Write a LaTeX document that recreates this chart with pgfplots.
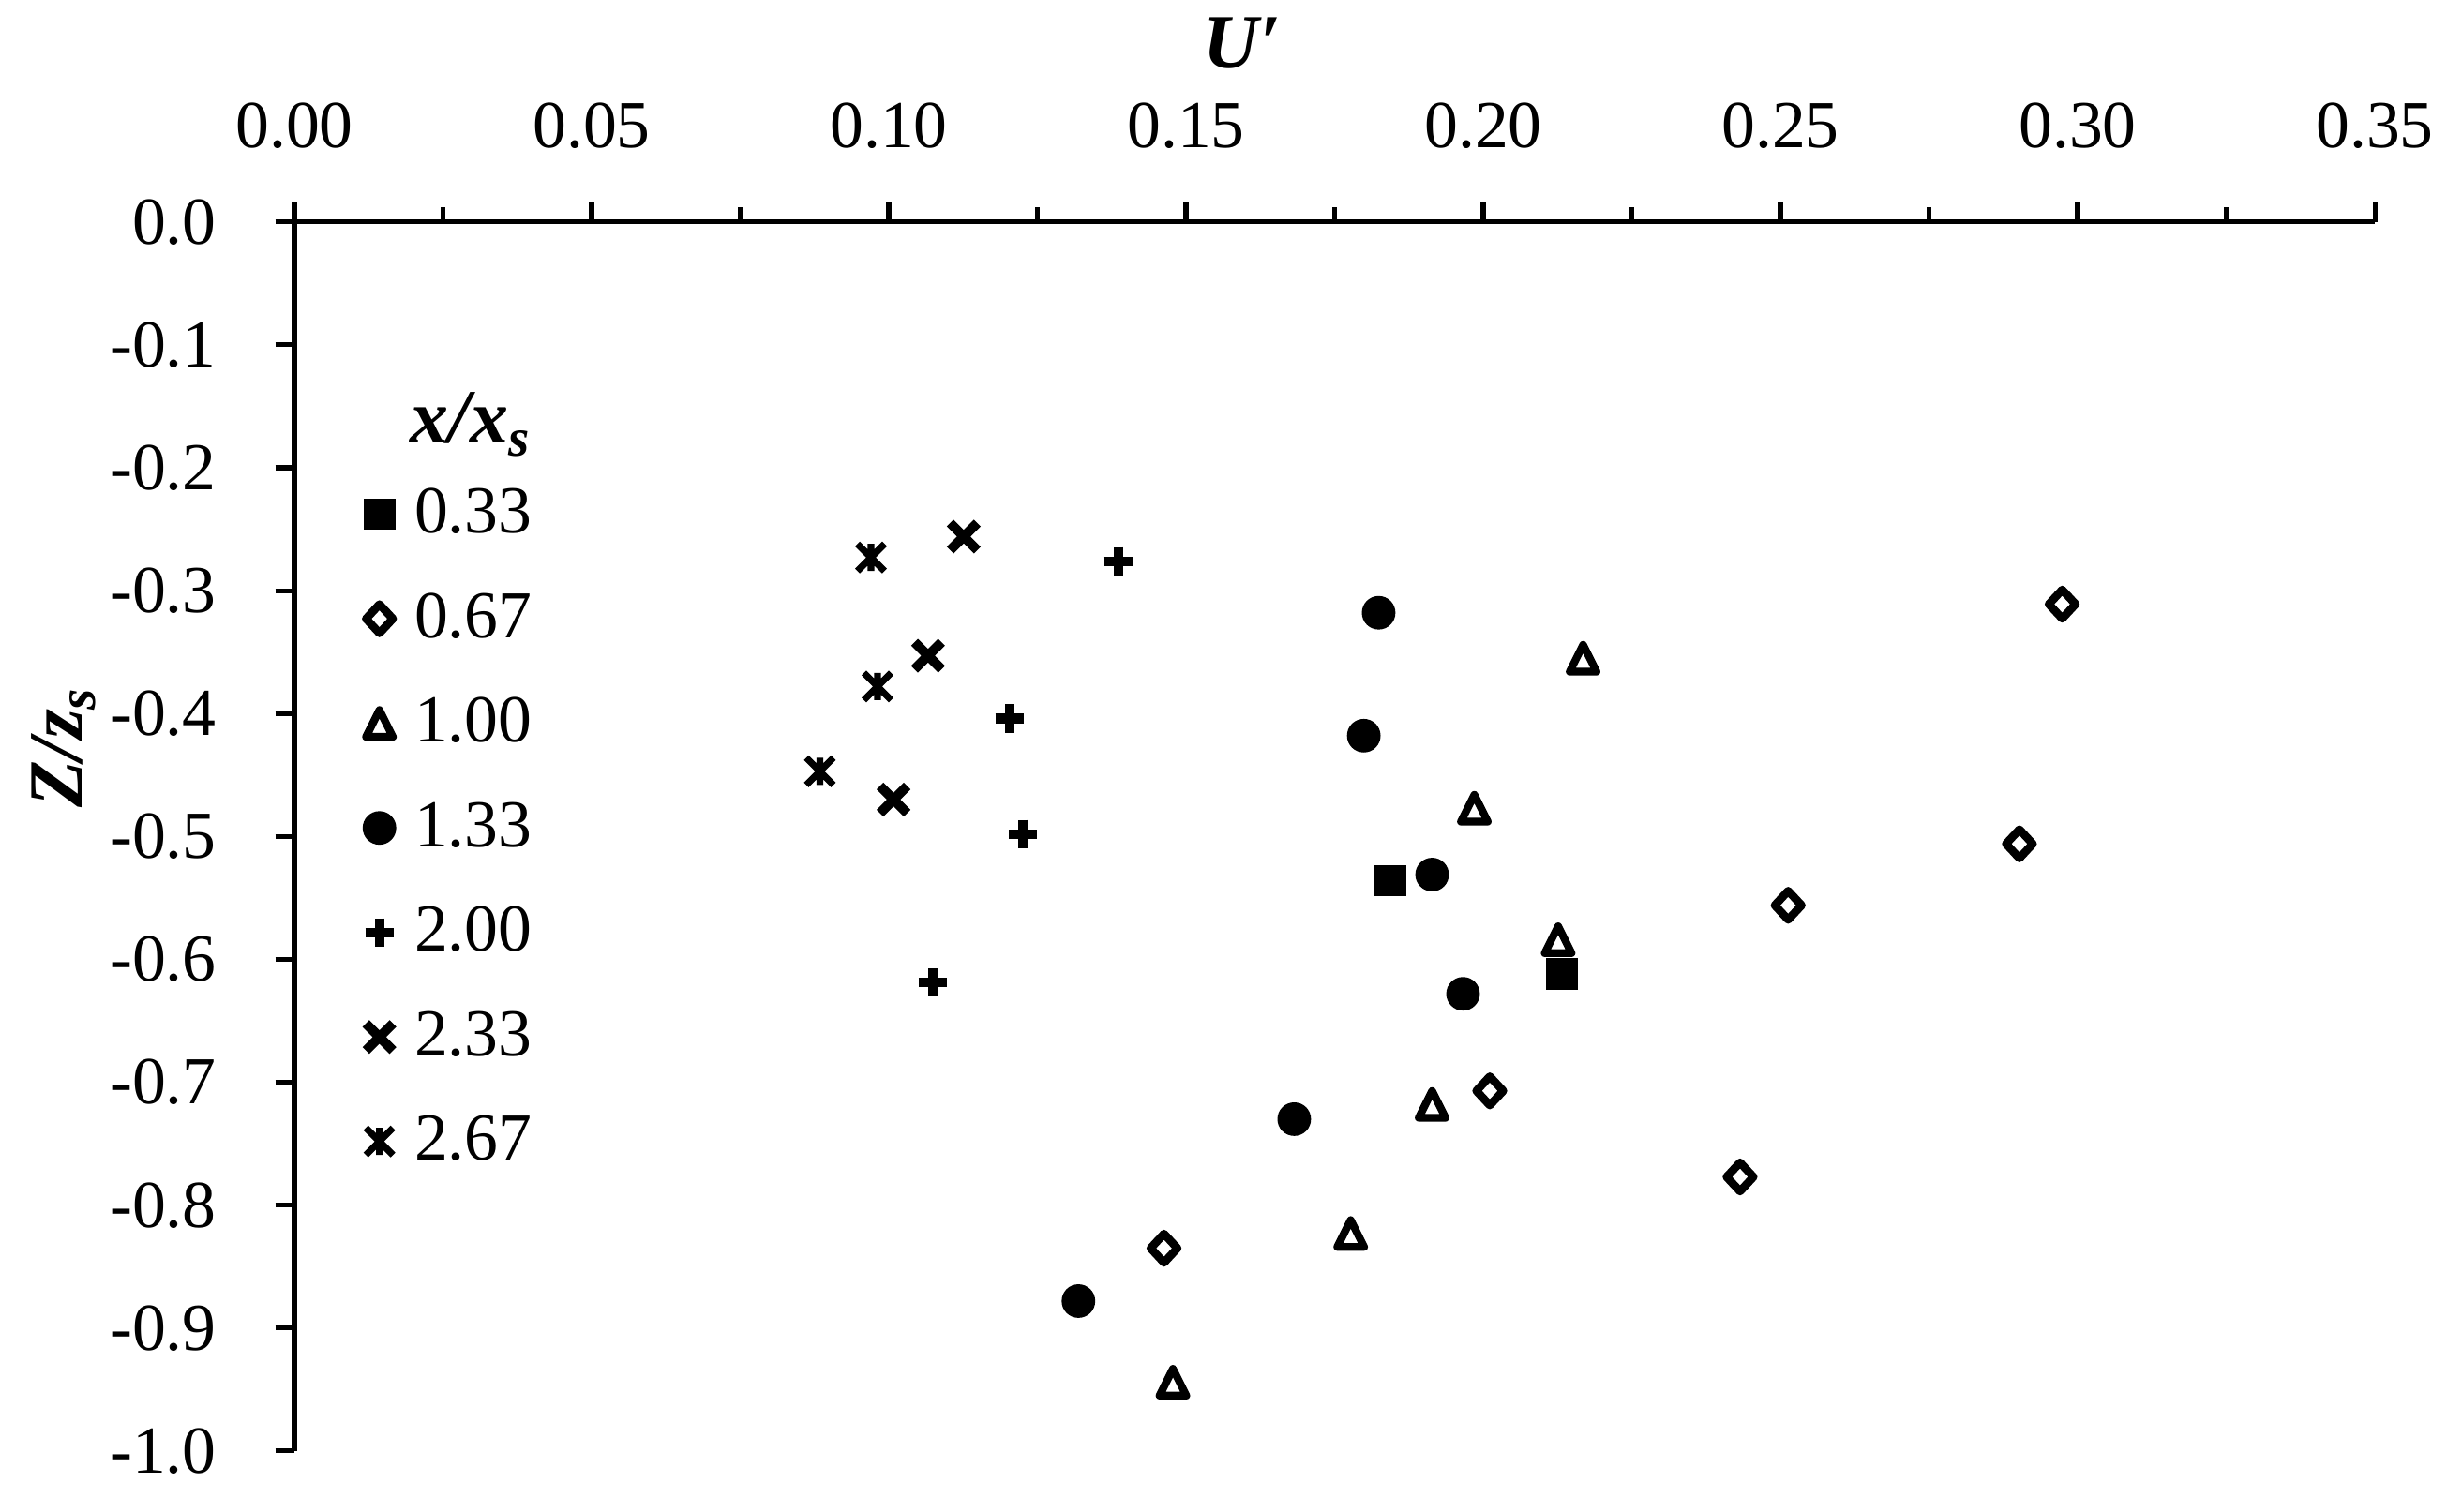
\documentclass[border=0pt]{standalone}
\usepackage{fontspec}
\setmainfont{Liberation Serif}
\usepackage{pgfplots}
\pgfplotsset{compat=1.18}

% open marks drawn like the spreadsheet ones
\pgfdeclareplotmark{tri}{%
  \pgfpathmoveto{\pgfqpoint{0pt}{\pgfplotmarksize}}%
  \pgfpathlineto{\pgfqpoint{\pgfplotmarksize}{-\pgfplotmarksize}}%
  \pgfpathlineto{\pgfqpoint{-\pgfplotmarksize}{-\pgfplotmarksize}}%
  \pgfpathclose
  \pgfusepathqstroke}
\pgfdeclareplotmark{diam}{%
  \pgfpathmoveto{\pgfqpoint{0pt}{\pgfplotmarksize}}%
  \pgfpathlineto{\pgfqpoint{.93\pgfplotmarksize}{0pt}}%
  \pgfpathlineto{\pgfqpoint{0pt}{-\pgfplotmarksize}}%
  \pgfpathlineto{\pgfqpoint{-.93\pgfplotmarksize}{0pt}}%
  \pgfpathclose
  \pgfusepathqstroke}
\pgfdeclareplotmark{xast}{%
  \pgfpathmoveto{\pgfqpoint{-.7071\pgfplotmarksize}{-.7071\pgfplotmarksize}}%
  \pgfpathlineto{\pgfqpoint{.7071\pgfplotmarksize}{.7071\pgfplotmarksize}}%
  \pgfpathmoveto{\pgfqpoint{-.7071\pgfplotmarksize}{.7071\pgfplotmarksize}}%
  \pgfpathlineto{\pgfqpoint{.7071\pgfplotmarksize}{-.7071\pgfplotmarksize}}%
  \pgfpathmoveto{\pgfqpoint{0pt}{-.7071\pgfplotmarksize}}%
  \pgfpathlineto{\pgfqpoint{0pt}{.7071\pgfplotmarksize}}%
  \pgfusepathqstroke}

\begin{document}
\begin{tikzpicture}
\path[use as bounding box] (0,0) rectangle (510pt,315.17pt);
\begin{axis}[
    at={(61.36pt,12.70pt)}, anchor=south west,
    scale only axis,
    width=433.6pt, height=256.2pt,
    xmin=0, xmax=0.35, ymin=-1, ymax=0,
    axis x line=top, axis y line=left,
    axis line style={-, line width=1pt},
    xtick={0,0.05,0.10,0.15,0.20,0.25,0.30,0.35},
    minor x tick num=1,
    ytick={-1,-0.9,-0.8,-0.7,-0.6,-0.5,-0.4,-0.3,-0.2,-0.1,0},
    tick align=outside,
    major tick length=4pt, minor tick length=3pt,
    every tick/.style={black, line width=1pt},
    /pgf/number format/assume math mode=true,
    ticklabel style={font=\fontsize{14}{16}\selectfont},
    xticklabel style={/pgf/number format/fixed, /pgf/number format/fixed zerofill,
        /pgf/number format/precision=2, anchor=base, inner sep=0pt, yshift=11.5pt},
    yticklabel style={/pgf/number format/fixed, /pgf/number format/fixed zerofill,
        /pgf/number format/precision=1, anchor=east, inner sep=0pt, xshift=-12.1pt},
    label style={font=\fontsize{16}{19}\selectfont},
    xlabel={\textbf{\textit{U′}}},
    ylabel={\textbf{\textit{Z/z\textsubscript{s}}}},
    xlabel style={at={(axis description cs:0.4556,1)}, anchor=center, yshift=37.3pt},
    ylabel style={at={(axis description cs:-0.1109,0.5727)}, anchor=center},
    legend style={draw=none, fill=none, at={(axis description cs:0.0328,0.790)},
        anchor=north west, inner sep=0pt, row sep=8pt, column sep=2.5pt,
        nodes={inner sep=1.5pt}, font=\fontsize{14}{16}\selectfont},
    legend cell align=left,
    legend image code/.code={\draw[mark repeat=2,mark phase=2]
        plot coordinates {(0cm,0cm) (0.15cm,0cm) (0.3cm,0cm)};},
]
\addplot[only marks, mark=square*, mark size=3.1pt, black, mark options={line width=0.4pt}]
    coordinates {(0.1844,-0.536) (0.2132,-0.612)};
\addlegendentry{0.33}
\addplot[only marks, mark=diam, mark size=3pt, black, mark options={line width=1.7pt, line join=round}]
    coordinates {(0.2974,-0.311) (0.2902,-0.506) (0.2513,-0.556) (0.2011,-0.707) (0.2432,-0.777) (0.1463,-0.835)};
\addlegendentry{0.67}
\addplot[only marks, mark=tri, mark size=2.8pt, black, mark options={line width=1.6pt, line join=round}]
    coordinates {(0.2168,-0.355) (0.1985,-0.477) (0.2126,-0.584) (0.1914,-0.718) (0.1777,-0.823) (0.1478,-0.944)};
\addlegendentry{1.00}
\addplot[only marks, mark=*, mark size=3.3pt, black, mark options={line width=0.4pt}]
    coordinates {(0.1824,-0.318) (0.1799,-0.418) (0.1914,-0.531) (0.1966,-0.628) (0.1682,-0.730) (0.1319,-0.878)};
\addlegendentry{1.33}
\addplot[only marks, mark=+, mark size=2.95pt, black, mark options={line width=2pt}]
    coordinates {(0.1386,-0.276) (0.1203,-0.404) (0.1226,-0.498) (0.1074,-0.619)};
\addlegendentry{2.00}
\addplot[only marks, mark=x, mark size=4pt, black, mark options={line width=2pt}]
    coordinates {(0.1126,-0.256) (0.1066,-0.353) (0.1008,-0.470)};
\addlegendentry{2.33}
\addplot[only marks, mark=xast, mark size=4pt, black, mark options={line width=1.4pt}]
    coordinates {(0.0970,-0.273) (0.0981,-0.378) (0.0884,-0.447)};
\addlegendentry{2.67}
\node[anchor=base west, inner sep=0pt, font=\fontsize{16}{19}\selectfont\bfseries\itshape]
    at (axis description cs:0.0554,0.820) {x/x\textsubscript{s}};
\end{axis}
\end{tikzpicture}
\end{document}
